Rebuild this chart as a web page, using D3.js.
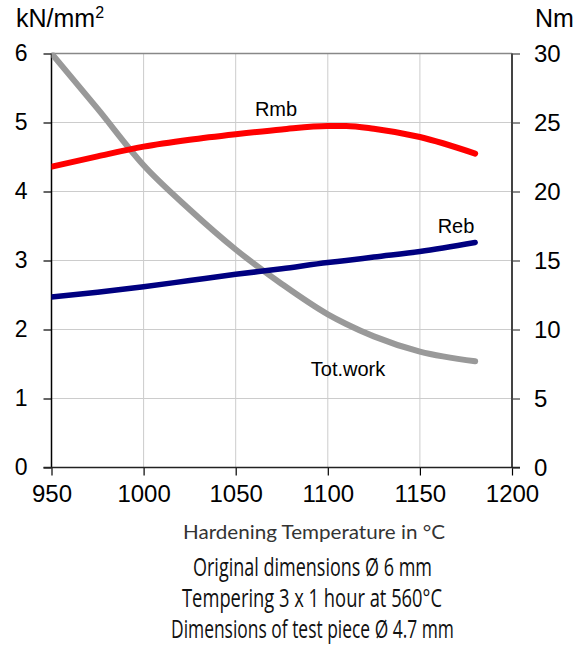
<!DOCTYPE html>
<html><head><meta charset="utf-8">
<script src="https://cdn.jsdelivr.net/npm/d3@7"></script>
<style>body{margin:0;background:#fff}svg{display:block}</style>
</head><body>
<svg id="c" width="586" height="648"></svg>
<script>
const temps = [950, 975, 1000, 1025, 1050, 1075, 1100, 1110, 1125, 1150, 1180];
const rmb   = [4.36, 4.51, 4.65, 4.75, 4.83, 4.90, 4.95, 4.95, 4.91, 4.79, 4.55];
const reb   = [2.47, 2.54, 2.62, 2.71, 2.80, 2.88, 2.97, 3.00, 3.05, 3.13, 3.26];
const work  = [30.0, 26.0, 21.9, 18.7, 15.8, 13.3, 11.1, 10.4, 9.5, 8.4, 7.7];
const xTicks = [950, 1000, 1050, 1100, 1150, 1200];
const yLeftTicks = [0, 1, 2, 3, 4, 5, 6];
const yRightTicks = [0, 5, 10, 15, 20, 25, 30];
const seriesLabels = ["Rmb", "Reb", "Tot.work"];
const captions = ["Original dimensions Ø 6 mm", "Tempering 3 x 1 hour at 560°C", "Dimensions of test piece Ø 4.7 mm"];

const svg = d3.select("#c");
const L = 51.5, R = 512, T = 53.5, B = 467.5;
const x = d3.scaleLinear().domain([950, 1200]).range([L, R]);
const yl = d3.scaleLinear().domain([0, 6]).range([B, T]);
const yr = d3.scaleLinear().domain([0, 30]).range([B, T]);
const font = "'Liberation Sans', Arial, Helvetica, sans-serif";

svg.selectAll(".vg").data(xTicks.slice(1, -1)).join("line")
  .attr("x1", d => x(d)).attr("x2", d => x(d)).attr("y1", T).attr("y2", B)
  .attr("stroke", "#cccccc").attr("stroke-width", 1);
svg.selectAll(".hg").data(yLeftTicks.slice(1, -1)).join("line")
  .attr("x1", L).attr("x2", R).attr("y1", d => yl(d)).attr("y2", d => yl(d))
  .attr("stroke", "#cccccc").attr("stroke-width", 1);
svg.append("line").attr("x1", L).attr("x2", R).attr("y1", T).attr("y2", T)
  .attr("stroke", "#888").attr("stroke-width", 1.5);

function styleAxis(sel, col, fs) {
  sel.select(".domain").remove();
  sel.selectAll(".tick line").attr("stroke", col).attr("stroke-width", 1.2);
  sel.selectAll(".tick text").style("font-family", font).style("font-size", fs + "px").attr("fill", "#000");
}
const ax = svg.append("g").attr("transform", `translate(0,${B})`)
  .call(d3.axisBottom(x).tickValues(xTicks).tickSize(8).tickPadding(9).tickFormat(d3.format("d")));
styleAxis(ax, "#000", 24);
const ayl = svg.append("g").attr("transform", `translate(${L},0)`)
  .call(d3.axisLeft(yl).tickValues(yLeftTicks).tickSize(8).tickPadding(16).tickFormat(d3.format("d")));
styleAxis(ayl, "#000", 23);
const ayr = svg.append("g").attr("transform", `translate(${R},0)`)
  .call(d3.axisRight(yr).tickValues(yRightTicks).tickSize(8).tickPadding(14).tickFormat(d3.format("d")));
styleAxis(ayr, "#444", 24);

svg.append("line").attr("x1", L).attr("x2", L).attr("y1", T).attr("y2", B).attr("stroke", "#000").attr("stroke-width", 1.5);
svg.append("line").attr("x1", R).attr("x2", R).attr("y1", T).attr("y2", B).attr("stroke", "#444").attr("stroke-width", 2);
svg.append("line").attr("x1", L - 8).attr("x2", R + 8).attr("y1", B).attr("y2", B).attr("stroke", "#222").attr("stroke-width", 1.5);

svg.append("clipPath").attr("id", "pc").append("rect")
  .attr("x", L).attr("y", T - 1).attr("width", R - L).attr("height", B - T + 1);
function drawLine(vals, yScale, col, w) {
  const line = d3.line().x((d, i) => x(temps[i])).y(d => yScale(d)).curve(d3.curveMonotoneX);
  svg.append("path").datum(vals).attr("d", line).attr("fill", "none")
    .attr("stroke", col).attr("stroke-width", w).attr("stroke-linecap", "round")
    .attr("clip-path", "url(#pc)");
}
drawLine(work, yr, "#999999", 6);
drawLine(reb, yl, "#000080", 5.5);
drawLine(rmb, yl, "#ff0000", 6);

const lbl = (t, xx, yy) => svg.append("text").attr("x", xx).attr("y", yy).attr("text-anchor", "middle")
  .style("font-family", font).style("font-size", "20px").text(t);
lbl(seriesLabels[0], 276, 116);
lbl(seriesLabels[1], 456, 233);
lbl(seriesLabels[2], 348, 376);

const kn = svg.append("text").attr("x", 16).attr("y", 27).style("font-family", font).style("font-size", "25px");
kn.append("tspan").text("kN/mm");
kn.append("tspan").style("font-size", "16px").attr("dy", -9).text("2");
svg.append("text").attr("x", 535).attr("y", 27).style("font-family", font).style("font-size", "25px").text("Nm");

svg.append("text").attr("x", 314).attr("y", 539).attr("text-anchor", "middle")
  .style("font-family", "Lato, 'Open Sans', sans-serif").style("font-weight", 400).style("font-size", "19px")
  .attr("textLength", 262).attr("lengthAdjust", "spacingAndGlyphs")
  .attr("fill", "#333").text("Hardening Temperature in °C");

const capW = [239, 260, 283];
const capX = [312.5, 312, 312.5];
captions.forEach((c, i) => {
  svg.append("text").attr("x", capX[i]).attr("y", 576 + i * 31).attr("text-anchor", "middle")
    .style("font-family", "'Open Sans', 'Noto Sans', sans-serif").style("font-size", "25px")
    .attr("textLength", capW[i]).attr("lengthAdjust", "spacingAndGlyphs")
    .attr("fill", "#111").text(c);
});
</script>
</body></html>
